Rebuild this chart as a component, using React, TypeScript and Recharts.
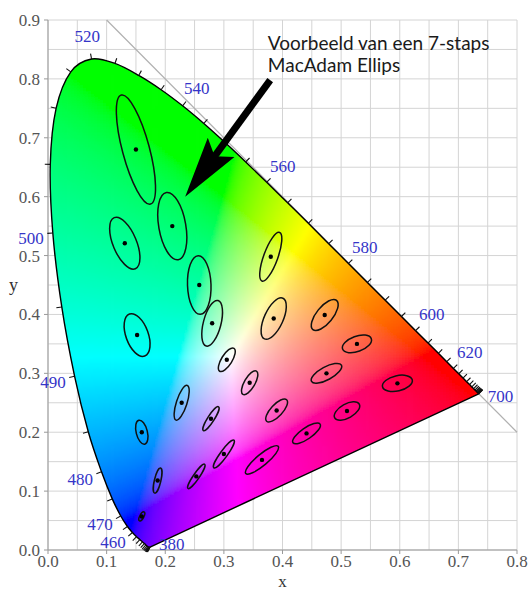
import React from "react";
import { ScatterChart, Scatter, XAxis, YAxis, CartesianGrid } from "recharts";

// CIE 1931 spectral locus, 5 nm steps
const WAVELENGTHS = [
  380, 385, 390, 395, 400, 405, 410, 415, 420, 425, 430, 435, 440, 445, 450,
  455, 460, 465, 470, 475, 480, 485, 490, 495, 500, 505, 510, 515, 520, 525,
  530, 535, 540, 545, 550, 555, 560, 565, 570, 575, 580, 585, 590, 595, 600,
  605, 610, 615, 620, 625, 630, 635, 640, 645, 650, 655, 660, 665, 670, 675,
  680, 685, 690, 695, 700,
];
const LOCUS_X = [
  0.1741, 0.174, 0.1738, 0.1736, 0.1733, 0.173, 0.1726, 0.1721, 0.1714,
  0.1703, 0.1689, 0.1669, 0.1644, 0.1611, 0.1566, 0.151, 0.144, 0.1355, 0.1241, 0.1096,
  0.0913, 0.0687, 0.0454, 0.0235, 0.0082, 0.0039, 0.0139, 0.0389, 0.0743, 0.1142, 0.1547,
  0.1929, 0.2296, 0.2658, 0.3016, 0.3373, 0.3731, 0.4087, 0.4441, 0.4788, 0.5125, 0.5448,
  0.5752, 0.6029, 0.627, 0.6482, 0.6658, 0.6801, 0.6915, 0.7006, 0.7079, 0.714, 0.719,
  0.723, 0.726, 0.7283, 0.73, 0.7311, 0.732, 0.7327, 0.7334, 0.734, 0.7344, 0.7346, 0.7347,
];
const LOCUS_Y = [
  0.005, 0.005, 0.0049, 0.0049, 0.0048, 0.0048, 0.0048, 0.0048, 0.0051,
  0.0058, 0.0069, 0.0086, 0.0109, 0.0138, 0.0177, 0.0227, 0.0297, 0.0399, 0.0578, 0.0868,
  0.1327, 0.2007, 0.295, 0.4127, 0.5384, 0.6548, 0.7502, 0.812, 0.8338, 0.8262, 0.8059,
  0.7816, 0.7543, 0.7243, 0.6923, 0.6589, 0.6245, 0.5896, 0.5547, 0.5202, 0.4866, 0.4544,
  0.4242, 0.3965, 0.3725, 0.3514, 0.334, 0.3197, 0.3083, 0.2993, 0.292, 0.2859, 0.2809,
  0.277, 0.274, 0.2717, 0.27, 0.2689, 0.268, 0.2673, 0.2666, 0.266, 0.2656, 0.2654, 0.2653,
];
const WAVE_LABELS = [380, 460, 470, 480, 490, 500, 520, 540, 560, 580, 600, 620, 700];

// MacAdam ellipses: centre, semi-axes (x 1e-3) and angle in degrees
const ELLIPSES = [
  { x: 0.16, y: 0.057, a: 0.85, b: 0.35, theta: 62.5 },
  { x: 0.187, y: 0.118, a: 2.2, b: 0.55, theta: 77 },
  { x: 0.253, y: 0.125, a: 2.5, b: 0.5, theta: 55.5 },
  { x: 0.15, y: 0.68, a: 9.6, b: 2.3, theta: 105 },
  { x: 0.131, y: 0.521, a: 4.7, b: 2.0, theta: 112.5 },
  { x: 0.212, y: 0.55, a: 5.8, b: 2.3, theta: 100 },
  { x: 0.258, y: 0.45, a: 5.0, b: 2.0, theta: 92 },
  { x: 0.152, y: 0.365, a: 3.8, b: 1.9, theta: 110 },
  { x: 0.28, y: 0.385, a: 4.0, b: 1.5, theta: 75.5 },
  { x: 0.38, y: 0.498, a: 4.4, b: 1.2, theta: 70 },
  { x: 0.16, y: 0.2, a: 2.1, b: 0.95, theta: 104 },
  { x: 0.228, y: 0.25, a: 3.1, b: 0.9, theta: 72 },
  { x: 0.305, y: 0.323, a: 2.3, b: 0.9, theta: 58 },
  { x: 0.385, y: 0.393, a: 3.8, b: 1.6, theta: 65.5 },
  { x: 0.472, y: 0.399, a: 3.2, b: 1.4, theta: 51 },
  { x: 0.527, y: 0.35, a: 2.6, b: 1.3, theta: 20 },
  { x: 0.475, y: 0.3, a: 2.9, b: 1.1, theta: 28.5 },
  { x: 0.51, y: 0.236, a: 2.4, b: 1.2, theta: 29.5 },
  { x: 0.596, y: 0.283, a: 2.6, b: 1.3, theta: 13 },
  { x: 0.344, y: 0.284, a: 2.3, b: 0.9, theta: 60 },
  { x: 0.39, y: 0.237, a: 2.5, b: 1.0, theta: 47 },
  { x: 0.441, y: 0.198, a: 2.8, b: 0.95, theta: 34.5 },
  { x: 0.278, y: 0.223, a: 2.4, b: 0.55, theta: 57.5 },
  { x: 0.3, y: 0.163, a: 2.9, b: 0.6, theta: 54 },
  { x: 0.365, y: 0.153, a: 3.6, b: 0.95, theta: 40 },
];
const ELLIPSE_SCALE = 10;

const X_TICKS = [0, 0.1, 0.2, 0.3, 0.4, 0.5, 0.6, 0.7, 0.8];
const Y_TICKS = [0, 0.1, 0.2, 0.3, 0.4, 0.5, 0.6, 0.7, 0.8, 0.9];
const GRID_X = [0, 0.05, 0.1, 0.15, 0.2, 0.25, 0.3, 0.35, 0.4, 0.45, 0.5, 0.55, 0.6, 0.65, 0.7, 0.75, 0.8];
const GRID_Y = [0, 0.05, 0.1, 0.15, 0.2, 0.25, 0.3, 0.35, 0.4, 0.45, 0.5, 0.55, 0.6, 0.65, 0.7, 0.75, 0.8, 0.85, 0.9];

const DIAGONAL = [{ x: 0.1, y: 0.9 }, { x: 0.8, y: 0.2 }];
const ARROW = [{ x: 0.379, y: 0.798 }, { x: 0.234, y: 0.6 }];
const NOTE = [
  { x: 0.375, y: 0.849, text: "Voorbeeld van een 7-staps" },
  { x: 0.375, y: 0.811, text: "MacAdam Ellips" },
];

const WIDTH = 531;
const HEIGHT = 591;
const MARGIN = { top: 20, right: 14, bottom: 11, left: 8 };
const Y_AXIS_W = 40;
const X_AXIS_H = 30;
const KX = (WIDTH - MARGIN.left - MARGIN.right - Y_AXIS_W) / 0.8;
const KY = (HEIGHT - MARGIN.top - MARGIN.bottom - X_AXIS_H) / 0.9;

const LOCUS = WAVELENGTHS.map((nm, i) => ({ nm, i, x: LOCUS_X[i], y: LOCUS_Y[i] }));
const LABELS = LOCUS.filter((p) => WAVE_LABELS.includes(p.nm));

function inLocus(x: number, y: number) {
  let inside = false;
  const n = LOCUS_X.length;
  for (let i = 0, j = n - 1; i < n; j = i++) {
    const xi = LOCUS_X[i], yi = LOCUS_Y[i], xj = LOCUS_X[j], yj = LOCUS_Y[j];
    if (yi > y !== yj > y && x < ((xj - xi) * (y - yi)) / (yj - yi) + xi) inside = !inside;
  }
  return inside;
}

function xyToHex(x: number, y: number) {
  const X = x / y;
  const Z = (1 - x - y) / y;
  const r = Math.max(0, 3.2406 * X - 1.5372 - 0.4986 * Z);
  const g = Math.max(0, -0.9689 * X + 1.8758 + 0.0415 * Z);
  const b = Math.max(0, 0.0557 * X - 0.204 + 1.057 * Z);
  const m = Math.max(r, g, b);
  const enc = (c: number) => {
    const v = c / m;
    const s = v <= 0.0031308 ? 12.92 * v : 1.055 * Math.pow(v, 1 / 2.4) - 0.055;
    return Math.round(255 * Math.min(1, s)).toString(16).padStart(2, "0");
  };
  return "#" + enc(r) + enc(g) + enc(b);
}

const CELL = 0.005;
const CELLS: { x: number; y: number; fill: string }[] = [];
for (let cy = CELL / 2; cy < 0.85; cy += CELL) {
  for (let cx = CELL / 2; cx < 0.75; cx += CELL) {
    let near = false;
    for (let dx = -1; dx <= 1 && !near; dx++)
      for (let dy = -1; dy <= 1 && !near; dy++)
        if (inLocus(cx + dx * CELL, cy + dy * CELL)) near = true;
    if (near) CELLS.push({ x: cx, y: cy, fill: xyToHex(cx, cy) });
  }
}

function normalAt(i: number) {
  const n = LOCUS_X.length;
  let dx = 0, dy = 0;
  for (let k = 1; k < 12; k++) {
    const a = Math.max(0, i - k);
    const b = Math.min(n - 1, i + k);
    dx = (LOCUS_X[b] - LOCUS_X[a]) * KX;
    dy = -(LOCUS_Y[b] - LOCUS_Y[a]) * KY;
    if (Math.hypot(dx, dy) > 6) break;
  }
  const len = Math.hypot(dx, dy) || 1;
  return [dy / len, -dx / len];
}

// smooth closed outline (Catmull-Rom through the locus, straight purple line back)
function smoothPath(pts: { x: number; y: number }[]) {
  const n = pts.length;
  const at = (i: number) => pts[Math.max(0, Math.min(n - 1, i))];
  let d = `M${pts[0].x},${pts[0].y}`;
  for (let i = 0; i < n - 1; i++) {
    const p0 = at(i - 1), p1 = at(i), p2 = at(i + 1), p3 = at(i + 2);
    const c1x = p1.x + (p2.x - p0.x) / 6, c1y = p1.y + (p2.y - p0.y) / 6;
    const c2x = p2.x - (p3.x - p1.x) / 6, c2y = p2.y - (p3.y - p1.y) / 6;
    d += `C${c1x},${c1y} ${c2x},${c2y} ${p2.x},${p2.y}`;
  }
  return d + "Z";
}

const serif = "'Liberation Serif', 'Times New Roman', serif";
const fmt = (v: number) => v.toFixed(1);
const noShape = () => null;

const renderDiagonal = (props: any) => {
  const [a, b] = props.points;
  return <line x1={a.x} y1={a.y} x2={b.x} y2={b.y} stroke="#b0b0b0" strokeWidth={1.2} />;
};

const renderCells = (props: any) => {
  const w = CELL * KX + 0.8;
  const h = CELL * KY + 0.8;
  return (
    <g clipPath="url(#locus-clip)">
      <defs>
        <filter id="cell-blur" x="-5%" y="-5%" width="110%" height="110%">
          <feGaussianBlur stdDeviation="1.2" />
        </filter>
      </defs>
      <g filter="url(#cell-blur)">
        {props.points.map((p: any, i: number) => (
          <rect key={i} x={p.x - w / 2} y={p.y - h / 2} width={w} height={h} fill={CELLS[i].fill} />
        ))}
      </g>
    </g>
  );
};

const renderLocus = (props: any) => {
  const d = smoothPath(props.points);
  return (
    <g>
      <defs>
        <clipPath id="locus-clip">
          <path d={d} />
        </clipPath>
      </defs>
      <path d={d} fill="none" stroke="#000" strokeWidth={1.4} strokeLinejoin="round" />
    </g>
  );
};

const renderTick = (props: any) => {
  const { cx, cy, payload } = props;
  const [nx, ny] = normalAt(payload.i);
  return <line x1={cx} y1={cy} x2={cx + nx * 5.5} y2={cy + ny * 5.5} stroke="#111" strokeWidth={1.1} />;
};

const renderEllipse = (props: any) => {
  const { cx, cy, payload } = props;
  const k = ((KX + KY) / 2) * ELLIPSE_SCALE * 1e-3;
  return (
    <g>
      <ellipse
        cx={cx}
        cy={cy}
        rx={payload.a * k}
        ry={payload.b * k}
        transform={`rotate(${-payload.theta} ${cx} ${cy})`}
        fill="none"
        stroke="#111"
        strokeWidth={1.5}
      />
      <circle cx={cx} cy={cy} r={2.2} fill="#000" />
    </g>
  );
};

const renderWaveLabel = (props: any) => {
  const { cx, cy, payload } = props;
  const last = LOCUS_X.length - 1;
  let x = cx, y = cy, anchor = "middle";
  if (payload.i === 0 || payload.i === last) {
    // ends of the locus: label to the right
    x = cx + 9;
    y = cy + (payload.i === 0 ? -3 : 2);
    anchor = "start";
  } else {
    const [nx, ny] = normalAt(payload.i);
    if (nx < -0.3) {
      // left side: right-aligned just past the tick
      x = cx + nx * 9;
      y = cy + ny * 9 + 4;
      anchor = "end";
    } else {
      x = cx + nx * 23;
      y = cy + ny * 23;
    }
  }
  return (
    <text x={x} y={y} dy="0.35em" textAnchor={anchor} fill="#3535c8" fontSize={17} fontFamily={serif}>
      {payload.nm}
    </text>
  );
};

const renderArrow = (props: any) => {
  const [t, h] = props.points;
  const dx = h.x - t.x, dy = h.y - t.y;
  const L = Math.hypot(dx, dy);
  const ux = dx / L, uy = dy / L;
  const nx = -uy, ny = ux;
  const back = (d: number, s: number) => `${h.x - ux * d + nx * s},${h.y - uy * d + ny * s}`;
  return (
    <g>
      <line x1={t.x} y1={t.y} x2={h.x - ux * 48} y2={h.y - uy * 48} stroke="#000" strokeWidth={7} />
      <polygon points={`${h.x},${h.y} ${back(61, 16.5)} ${back(50, 0)} ${back(61, -16.5)}`} fill="#000" />
    </g>
  );
};

const renderNote = (props: any) => {
  const { cx, cy, payload } = props;
  return (
    <text x={cx} y={cy} fill="#1a1a1a" fontSize={19} fontFamily="Lato, 'Open Sans', sans-serif">
      {payload.text}
    </text>
  );
};

const tickStyle = { fill: "#555", fontSize: 17, fontFamily: serif };

export default function App() {
  return (
    <div style={{ position: "absolute", left: 0, top: 0, width: WIDTH, height: HEIGHT, background: "#fff" }}>
      <ScatterChart width={WIDTH} height={HEIGHT} margin={MARGIN}>
        <CartesianGrid stroke="#d4d4d4" verticalValues={GRID_X} horizontalValues={GRID_Y} />
        <XAxis
          type="number"
          dataKey="x"
          domain={[0, 0.8]}
          ticks={X_TICKS}
          interval={0}
          tickFormatter={fmt}
          height={X_AXIS_H}
          stroke="#999"
          tickSize={4}
          tickMargin={1}
          tick={tickStyle}
          label={{ value: "x", position: "insideBottom", offset: -7, fill: "#333", fontSize: 17, fontFamily: serif }}
        />
        <YAxis
          type="number"
          dataKey="y"
          domain={[0, 0.9]}
          ticks={Y_TICKS}
          interval={0}
          tickFormatter={fmt}
          width={Y_AXIS_W}
          stroke="#999"
          tickSize={4}
          tickMargin={4}
          tick={tickStyle}
          label={{ value: "y", position: "insideLeft", offset: 1, angle: 0, fill: "#333", fontSize: 18, fontFamily: serif }}
        />
        <Scatter data={DIAGONAL} shape={noShape} line={renderDiagonal} isAnimationActive={false} />
        <Scatter data={CELLS} shape={noShape} line={renderCells} isAnimationActive={false} />
        <Scatter data={LOCUS} shape={renderTick} line={renderLocus} isAnimationActive={false} />
        <Scatter data={ELLIPSES} shape={renderEllipse} isAnimationActive={false} />
        <Scatter data={LABELS} shape={renderWaveLabel} isAnimationActive={false} />
        <Scatter data={ARROW} shape={noShape} line={renderArrow} isAnimationActive={false} />
        <Scatter data={NOTE} shape={renderNote} isAnimationActive={false} />
      </ScatterChart>
    </div>
  );
}
